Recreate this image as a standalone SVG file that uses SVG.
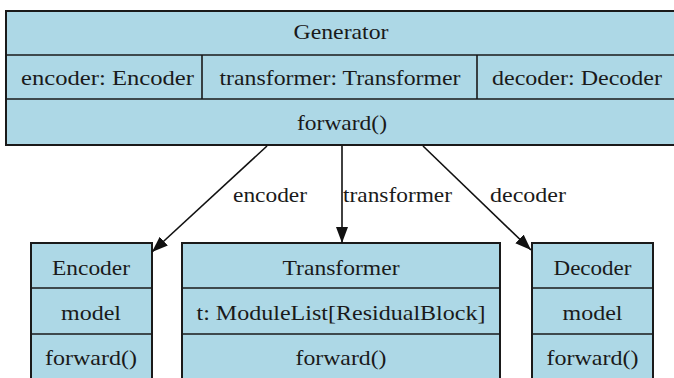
<svg xmlns="http://www.w3.org/2000/svg" width="674" height="378" viewBox="0 0 674 378">
<defs>
<style>
.box{fill:#add8e6;stroke:#1a1a1a;stroke-width:2}
.div{stroke:#1a1a1a;stroke-width:1.6;fill:none}
.t{font-family:"Liberation Serif",serif;font-size:22px;fill:#1a1a1a;text-anchor:middle}
.edge{stroke:#111;stroke-width:1.6;fill:none;marker-end:url(#ah)}
</style>
<marker id="ah" markerUnits="userSpaceOnUse" markerWidth="18" markerHeight="14" refX="16" refY="6" orient="auto">
<path d="M0,0 L16,6 L0,12 Z" fill="#111"/>
</marker>
</defs>
<rect width="674" height="378" fill="#fff"/>
<g id="Generator">
<rect class="box" x="6" y="11" width="680" height="134"/>
<line class="div" x1="6" y1="55" x2="686" y2="55"/>
<line class="div" x1="6" y1="99" x2="686" y2="99"/>
<line class="div" x1="202" y1="55" x2="202" y2="99"/>
<line class="div" x1="477" y1="55" x2="477" y2="99"/>
<text class="t" x="341" y="39" textLength="95" lengthAdjust="spacingAndGlyphs">Generator</text>
<text class="t" x="107.5" y="85" textLength="173" lengthAdjust="spacingAndGlyphs">encoder: Encoder</text>
<text class="t" x="340" y="85" textLength="241" lengthAdjust="spacingAndGlyphs">transformer: Transformer</text>
<text class="t" x="577" y="85" textLength="170" lengthAdjust="spacingAndGlyphs">decoder: Decoder</text>
<text class="t" x="342" y="130" textLength="90" lengthAdjust="spacingAndGlyphs">forward()</text>
</g>
<g id="Encoder">
<rect class="box" x="31" y="243" width="121" height="150"/>
<line class="div" x1="31" y1="288" x2="152" y2="288"/>
<line class="div" x1="31" y1="334" x2="152" y2="334"/>
<text class="t" x="91" y="275" textLength="78" lengthAdjust="spacingAndGlyphs">Encoder</text>
<text class="t" x="91" y="320" textLength="60" lengthAdjust="spacingAndGlyphs">model</text>
<text class="t" x="91" y="365" textLength="92" lengthAdjust="spacingAndGlyphs">forward()</text>
</g>
<g id="Transformer">
<rect class="box" x="182" y="243" width="318" height="150"/>
<line class="div" x1="182" y1="288" x2="500" y2="288"/>
<line class="div" x1="182" y1="334" x2="500" y2="334"/>
<text class="t" x="341" y="275" textLength="117" lengthAdjust="spacingAndGlyphs">Transformer</text>
<text class="t" x="341" y="320" textLength="289" lengthAdjust="spacingAndGlyphs">t: ModuleList[ResidualBlock]</text>
<text class="t" x="341" y="365" textLength="91" lengthAdjust="spacingAndGlyphs">forward()</text>
</g>
<g id="Decoder">
<rect class="box" x="532" y="243" width="121" height="150"/>
<line class="div" x1="532" y1="288" x2="653" y2="288"/>
<line class="div" x1="532" y1="334" x2="653" y2="334"/>
<text class="t" x="592.5" y="275" textLength="78" lengthAdjust="spacingAndGlyphs">Decoder</text>
<text class="t" x="592.5" y="320" textLength="60" lengthAdjust="spacingAndGlyphs">model</text>
<text class="t" x="592.5" y="365" textLength="92" lengthAdjust="spacingAndGlyphs">forward()</text>
</g>
<g id="connectors">
<line class="edge" x1="267" y1="146" x2="152" y2="252"/>
<line class="edge" x1="342" y1="146" x2="342" y2="243"/>
<line class="edge" x1="423" y1="146" x2="531" y2="250"/>
<text class="t" x="270" y="202" textLength="74" lengthAdjust="spacingAndGlyphs">encoder</text>
<text class="t" x="397.5" y="202" textLength="109" lengthAdjust="spacingAndGlyphs">transformer</text>
<text class="t" x="528" y="202" textLength="76" lengthAdjust="spacingAndGlyphs">decoder</text>
</g>
</svg>
